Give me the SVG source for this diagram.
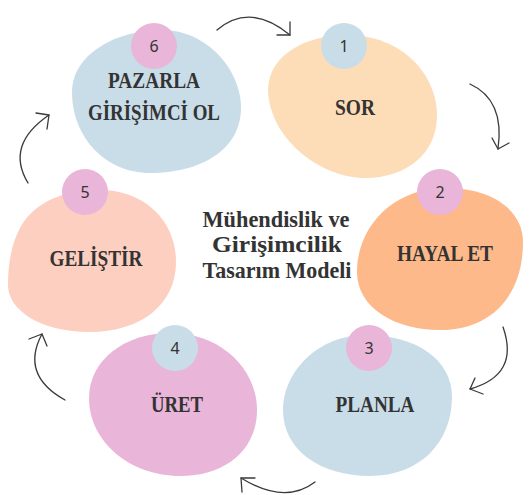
<svg xmlns="http://www.w3.org/2000/svg" width="529" height="495" viewBox="0 0 529 495">
<style>
.lbl{font-family:'Liberation Serif','Times New Roman','DejaVu Serif',serif;font-weight:700;font-size:24px;fill:#333;text-anchor:middle}
.ttl{font-family:'Liberation Serif','Times New Roman','DejaVu Serif',serif;font-weight:700;font-size:23px;fill:#333;text-anchor:middle}
.num{font-family:'Noto Sans','DejaVu Sans',sans-serif;font-size:16px;fill:#333;text-anchor:middle}
.arc{fill:none;stroke:#3a3a3a;stroke-width:1.3;stroke-linecap:round;stroke-linejoin:round}
.blue{fill:#C9DDE8}.peach{fill:#FDDDB8}.pink{fill:#E9B5D8}.salmon{fill:#FDCFC0}.orange{fill:#FDB98A}
</style>
<rect width="529" height="495" fill="#fff"/>
<g id="node6">
<path class="blue" d="M72,92 C72,55 115,30 162,30 C207,30 241,70 241,108 C241,150 200,173 150,173 C105,173 72,137 72,92 Z"/>
<circle class="pink" cx="154" cy="46" r="23"/>
<text class="num" x="154" y="52">6</text>
<text class="lbl" x="154" y="88" textLength="92" lengthAdjust="spacingAndGlyphs">PAZARLA</text>
<text class="lbl" x="154" y="120" textLength="132" lengthAdjust="spacingAndGlyphs">GİRİŞİMCİ OL</text>
</g>
<g id="node1">
<path class="peach" d="M268,88 C270,55 305,35 347,35 C402,35 437,75 437,115 C437,155 405,178 365,178 C320,178 268,138 268,88 Z"/>
<circle class="blue" cx="344" cy="46" r="23"/>
<text class="num" x="344" y="52">1</text>
<text class="lbl" x="355" y="115" textLength="40" lengthAdjust="spacingAndGlyphs">SOR</text>
</g>
<g id="node5">
<path class="salmon" d="M20,228 C35,200 70,188 105,190 C150,193 176,225 176,262 C176,305 140,332 90,332 C40,332 8,310 8,285 C8,262 12,243 20,228 Z"/>
<circle class="pink" cx="85" cy="192" r="23"/>
<text class="num" x="85" y="198">5</text>
<text class="lbl" x="96" y="266" textLength="93" lengthAdjust="spacingAndGlyphs">GELİŞTİR</text>
</g>
<g id="node2">
<path class="orange" d="M357,272 C357,225 395,188 445,188 C492,188 523,210 523,242 C523,297 490,330 440,330 C395,330 357,308 357,272 Z"/>
<circle class="pink" cx="440" cy="192" r="23"/>
<text class="num" x="440" y="198">2</text>
<text class="lbl" x="445" y="261" textLength="96" lengthAdjust="spacingAndGlyphs">HAYAL ET</text>
</g>
<g id="node4">
<path class="pink" d="M89,398 C89,360 125,333 170,333 C222,333 257,370 257,410 C257,450 225,476 180,476 C130,476 89,442 89,398 Z"/>
<circle class="blue" cx="175" cy="348" r="23"/>
<text class="num" x="175" y="354">4</text>
<text class="lbl" x="177" y="412" textLength="52" lengthAdjust="spacingAndGlyphs">ÜRET</text>
</g>
<g id="node3">
<path class="blue" d="M283,410 C283,370 320,335 365,335 C417,335 452,360 452,397 C452,442 420,476 370,476 C320,476 283,450 283,410 Z"/>
<circle class="pink" cx="369" cy="348" r="23"/>
<text class="num" x="369" y="354">3</text>
<text class="lbl" x="375" y="412" textLength="79" lengthAdjust="spacingAndGlyphs">PLANLA</text>
</g>
<g id="title">
<text class="ttl" x="276" y="227" textLength="147" lengthAdjust="spacingAndGlyphs">Mühendislik ve</text>
<text class="ttl" x="277" y="252" textLength="130" lengthAdjust="spacingAndGlyphs">Girişimcilik</text>
<text class="ttl" x="277" y="278" textLength="149" lengthAdjust="spacingAndGlyphs">Tasarım Modeli</text>
</g>
<g id="connectors">
<path class="arc" d="M217,30 Q250,2 290,35"/>
<path class="arc" d="M277,35 L290,35 L290,22"/>
<path class="arc" d="M470,84 Q505,100 498,149"/>
<path class="arc" d="M492,138 L498,149 L509,143"/>
<path class="arc" d="M503,327 Q520,375 470,389"/>
<path class="arc" d="M475,378 L470,389 L483,394"/>
<path class="arc" d="M315,482 Q285,505 241,478"/>
<path class="arc" d="M255,478 L241,478 L242,492"/>
<path class="arc" d="M65,400 Q20,375 42,334"/>
<path class="arc" d="M29,339 L42,334 L47,346"/>
<path class="arc" d="M28,183 Q5,145 49,115"/>
<path class="arc" d="M36,113 L49,115 L47,129"/>
</g>
</svg>
